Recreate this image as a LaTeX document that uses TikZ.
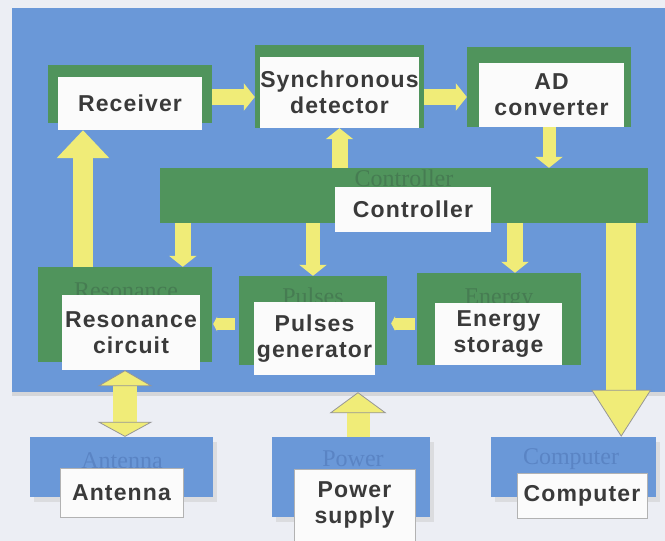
\documentclass[tikz,border=0pt]{standalone}
\usepackage{fontspec}
\usepackage{tikz}
\usetikzlibrary{arrows.meta}
\usetikzlibrary{shadows}
\newfontfamily\lblfont{Liberation Sans}[LetterSpace=5]
\newfontfamily\ghostfont{Liberation Serif}
\definecolor{pagebg}{RGB}{236,238,244}
\definecolor{boardblue}{RGB}{106,152,216}
\definecolor{boxgreen}{RGB}{80,148,92}
\definecolor{flowyellow}{RGB}{240,236,120}
\definecolor{inktext}{RGB}{58,58,58}
\definecolor{ghostgreen}{RGB}{70,124,82}
\definecolor{ghostblue}{RGB}{90,132,196}
\definecolor{tipedge}{RGB}{150,150,150}
\tikzset{
  gbox/.style={fill=boxgreen, inner sep=0pt},
  bbox/.style={fill=boardblue, inner sep=0pt,
    drop shadow={shadow xshift=4pt, shadow yshift=-5pt, fill=gray!40}},
  lbl/.style={fill=white!97!gray, text=inktext, inner sep=0pt, align=center,
    font=\lblfont\bfseries\fontsize{23}{26}\selectfont},
  ghost/.style={inner sep=0pt, anchor=base, font=\ghostfont\fontsize{24}{28}\selectfont},
  flow/.style={draw=flowyellow, line width=16pt, -{Triangle[width=27pt,length=11pt]}},
  stub/.style={draw=flowyellow, line width=12pt, -{Triangle[width=15pt,length=4pt]}}
}

\begin{document}
\begin{tikzpicture}[x=1pt,y=-1pt]
  \useasboundingbox (0,0) rectangle (665,541);
  \fill[pagebg] (0,0) rectangle (665,541);
  \node[fill=boardblue, inner sep=0pt, minimum width=653, minimum height=384,
    drop shadow={shadow xshift=0pt, shadow yshift=-4pt, fill=gray!50}] (board) at (338.5,200) {};

  \node[gbox, minimum width=164, minimum height=58] (recvbg) at (130,94) {};
  \node[gbox, minimum width=169, minimum height=83] (syncbg) at (339.5,86.5) {};
  \node[gbox, minimum width=164, minimum height=80] (adbg) at (549,87) {};
  \node[gbox, minimum width=488, minimum height=55] (ctrlbg) at (404,195.5) {};
  \node[gbox, minimum width=174, minimum height=95] (resbg) at (125,314.5) {};
  \node[gbox, minimum width=148, minimum height=89] (pulsbg) at (313,320.5) {};
  \node[gbox, minimum width=164, minimum height=92] (enbg) at (499,319) {};
  \node[bbox, minimum width=183, minimum height=60] (antbg) at (121.5,467) {};
  \node[bbox, minimum width=158, minimum height=80] (pwrbg) at (351,477) {};
  \node[bbox, minimum width=165, minimum height=60] (compbg) at (573.5,467) {};

  \node[ghost, text=ghostgreen] (ctrlghost) at (404,186) {Controller};
  \node[ghost, text=ghostgreen] (resghost) at (126,298) {Resonance};
  \node[ghost, text=ghostgreen] (pulsghost) at (313,304) {Pulses};
  \node[ghost, text=ghostgreen] (enghost) at (499,304) {Energy};
  \node[ghost, text=ghostblue] (antghost) at (122,468) {Antenna};
  \node[ghost, text=ghostblue] (pwrghost) at (353,466) {Power};
  \node[ghost, text=ghostblue] (compghost) at (571,464) {Computer};

  \node[lbl, minimum width=144, minimum height=53] (recv) at (130,103.5) {Receiver};
  \node[lbl, minimum width=159, minimum height=71] (sync) at (339.5,92.5) {Synchronous\\detector};
  \node[lbl, minimum width=145, minimum height=64] (ad) at (551.5,95) {AD\\converter};
  \node[lbl, minimum width=156, minimum height=45] (ctrl) at (413,209.5) {Controller};
  \node[lbl, minimum width=138, minimum height=75] (res) at (131,332.5) {Resonance\\circuit};
  \node[lbl, minimum width=121, minimum height=73] (puls) at (314.5,338.5) {Pulses\\generator};
  \node[lbl, minimum width=127, minimum height=62] (en) at (498.5,334) {Energy\\storage};
  \node[lbl, draw=gray!60, minimum width=123, minimum height=49] (ant) at (121.5,492.5) {Antenna};
  \node[lbl, draw=gray!60, minimum width=121, minimum height=72] (pwr) at (354.5,505) {Power\\supply};
  \node[lbl, draw=gray!60, minimum width=130, minimum height=45] (comp) at (582,495.5) {Computer};

  \draw[flow] ([yshift=-3]recvbg.east) -- ([yshift=-3]recvbg.east -| syncbg.west);
  \draw[flow] ([yshift=-10.5]syncbg.east) -- ([yshift=-10.5]syncbg.east -| adbg.west);
  \draw[flow] (syncbg.south |- ctrlbg.north) -- (syncbg.south);
  \draw[flow, line width=13pt] (adbg.south) -- (adbg.south |- ctrlbg.north);
  \draw[flow] ([xshift=23]ctrlbg.south west) -- ([xshift=23]ctrlbg.south west |- resbg.north);
  \draw[flow, line width=14pt] (pulsbg.north |- ctrlbg.south) -- (pulsbg.north);
  \draw[flow] ([xshift=16]enbg.north |- ctrlbg.south) -- ([xshift=16]enbg.north);
  \draw[stub, shorten <=2pt, shorten >=4pt] ([yshift=-4.5]enbg.west) -- ([yshift=-4.5]enbg.west -| pulsbg.east);
  \draw[stub, shorten <=4pt, shorten >=1pt] ([yshift=-3.5]pulsbg.west) -- ([yshift=-3.5]pulsbg.west -| resbg.east);
  \draw[draw=flowyellow, line width=20pt, -{Triangle[width=51pt,length=28pt]}]
    ([xshift=-42]resbg.north) -- ([xshift=-42]resbg.north |- recv.south);
  \draw[draw=flowyellow, line width=24pt,
    {Triangle[width=55pt,length=16pt,line width=0.8pt,fill=flowyellow,color=tipedge]}-{Triangle[width=55pt,length=15pt,line width=0.8pt,fill=flowyellow,color=tipedge]}]
    (resbg.south |- res.south) -- (resbg.south |- antbg.north);
  \draw[draw=flowyellow, line width=23pt, -{Triangle[width=57pt,length=21pt,line width=0.8pt,fill=flowyellow,color=tipedge]}]
    ([xshift=7]pwrbg.north) -- ([xshift=7]pwrbg.north |- board.south);
  \draw[draw=flowyellow, line width=30pt, -{Triangle[width=60pt,length=47pt,line width=0.8pt,fill=flowyellow,color=tipedge]}]
    ([xshift=-27]ctrlbg.south east) -- ([xshift=-27]ctrlbg.south east |- compbg.north);
\end{tikzpicture}
\end{document}
